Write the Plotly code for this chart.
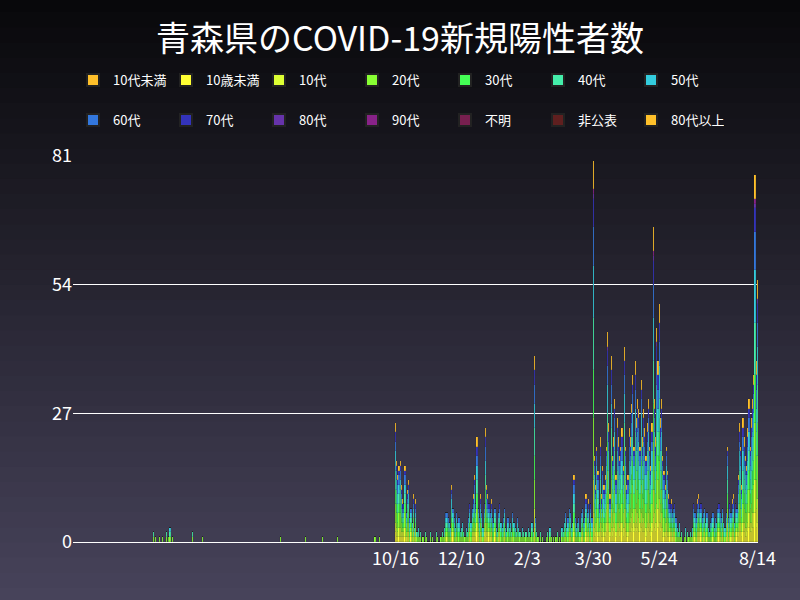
import plotly.graph_objects as go
import pandas as pd
import numpy as np

groups = ["10代未満","10歳未満","10代","20代","30代","40代","50代","60代","70代","80代","90代","不明","非公表","80代以上"]
colors = ["#FFC02A","#FFFF33","#DDFF33","#88FF33","#44FF55","#44EEAA","#33CCDD","#3377DD","#3333BB","#6633AA","#882288","#771F4F","#5F1F1F","#FFC02A"]
shares = [0,0.08,0.09,0.16,0.13,0.14,0.14,0.10,0.07,0.01,0.01,0,0,0.07]

early = {"2020-03-28":2,"2020-03-30":1,"2020-04-02":1,"2020-04-05":1,"2020-04-08":2,"2020-04-10":1,
         "2020-04-11":3,"2020-04-13":1,"2020-04-30":2,"2020-05-08":1,"2020-07-12":1,"2020-08-02":1,
         "2020-08-16":1,"2020-08-29":1,"2020-09-29":1,"2020-10-03":1}
totals = ([25,17,14,16,17,12,9,8,16,6,11,13,5,7,4,10,3,9,2,3,1,2,0,1,0,2]
 +[1,0,0,2,0,1,0,0,2,1,0]
 +[0,1,2,1,3,6,6,5,4,3,12,7,5,3,6,4,5,2,3,4,2,1,3,2]
 +[5,8,4,7,10,14,8,22,7,5,10,6,3,8,24,12,10,8,6,9,5,4,7,3,2]
 +[6,8,4,3,5,7,3,2,5,3,4,2,6,4,3,2,5,3,2,1,3,2,1,2,1]
 +[3,2,1,4,2,39,5,2]
 +[1,0,2,0,1,0,0,1,2,0,3,1,0,1,0,1,2,0,1,0,3,2]
 +[4,6,3,5,7,6,3,4,14,5,3,4,5,2,6,7,4,5,10,6,9,4,8,5,80]
 +[18,12,20,15,8,22,10,16,12,14,20,44,25,10,39,18,22,30,14,26,22,18,20,24,16,41,20,12,14,24,22,29,35,20,38]
 +[26,30,28,20,34,22,28,24,18,25,30,20,16,25,66,30,22,45,38,50,26,30,18,15,12,20,15,10,8,9,6,7,8,5,3]
 +[2,4,1,2,0,1,3,0,2,1,2,1,3,8,6,5,9,10,7,8,5,6,7,4,6]
 +[3,2,4,5,6,3,5,4,7,8,6,5,7,4,3,6,20,5,8,6,9,10,4,8,7]
 +[14,25,20,12,26,22,18,16,24,30,20,26,30,35,77,38,55])

dates = list(pd.to_datetime(list(early.keys()))) + list(pd.date_range("2020-10-16", periods=len(totals)))
tot = list(early.values()) + totals

sh = np.array(shares)
alloc = []
for t in tot:
    raw = sh * t
    base = np.floor(raw).astype(int)
    rem = t - base.sum()
    order = np.argsort(-(raw - base))
    for k in order[:rem]:
        base[k] += 1
    alloc.append(base)
alloc = np.array(alloc)

fig = go.Figure()
for gi, g in enumerate(groups):
    fig.add_bar(x=dates, y=alloc[:, gi], name=g, marker_color=colors[gi],
                marker_line_color="#222", marker_line_width=0.15,
                legend="legend" if gi < 7 else "legend2")

n = 40
c1 = np.array([8, 8, 10]); c2 = np.array([72, 68, 92])
shapes = []
for i in range(n):
    c = (c1 + (c2 - c1) * (i + 0.5) / n).astype(int)
    shapes.append(dict(type="rect", xref="paper", yref="paper", layer="below",
                       x0=-0.5, x1=1.5, y0=1.41 - (i + 1) * 1.57 / n, y1=1.41 - i * 1.57 / n + 0.002,
                       line_width=0, fillcolor=f"rgb({c[0]},{c[1]},{c[2]})"))

tickd = ["2020-10-16","2020-12-10","2021-02-03","2021-03-30","2021-05-24","2021-08-14"]
tickt = ["10/16","12/10","2/3","3/30","5/24","8/14"]
leg = dict(orientation="h", x=0.0, xanchor="left", yanchor="middle", entrywidth=48, traceorder="normal",
           font=dict(size=13, color="white"), bgcolor="rgba(0,0,0,0)", itemsizing="constant")
fig.update_layout(
    width=800, height=600, barmode="stack", bargap=0,
    paper_bgcolor="#26252f", plot_bgcolor="rgba(0,0,0,0)", shapes=shapes,
    margin=dict(l=73, r=42, t=156, b=58),
    font=dict(family="Noto Sans CJK JP", color="white"),
    title=dict(text="青森県のCOVID-19新規陽性者数", x=0.5, xanchor="center", y=0.935, yanchor="middle",
               font=dict(size=34, color="white")),
    legend=dict(leg, y=1.197),
    legend2=dict(leg, y=1.093),
    xaxis=dict(range=["2020-01-21","2021-08-14 12:00"], tickvals=tickd, ticktext=tickt,
               showgrid=False, tickfont=dict(size=18), ticks="", zeroline=False,
               showline=True, linecolor="white"),
    yaxis=dict(range=[0, 81], tickvals=[0,27,54,81], gridcolor="white", gridwidth=1,
               tickfont=dict(size=18), zeroline=False),
)
fig.write_html("out.html", config={"displayModeBar": False},
               post_script="document.body.style.margin='0';document.body.style.background='#26252f';")
